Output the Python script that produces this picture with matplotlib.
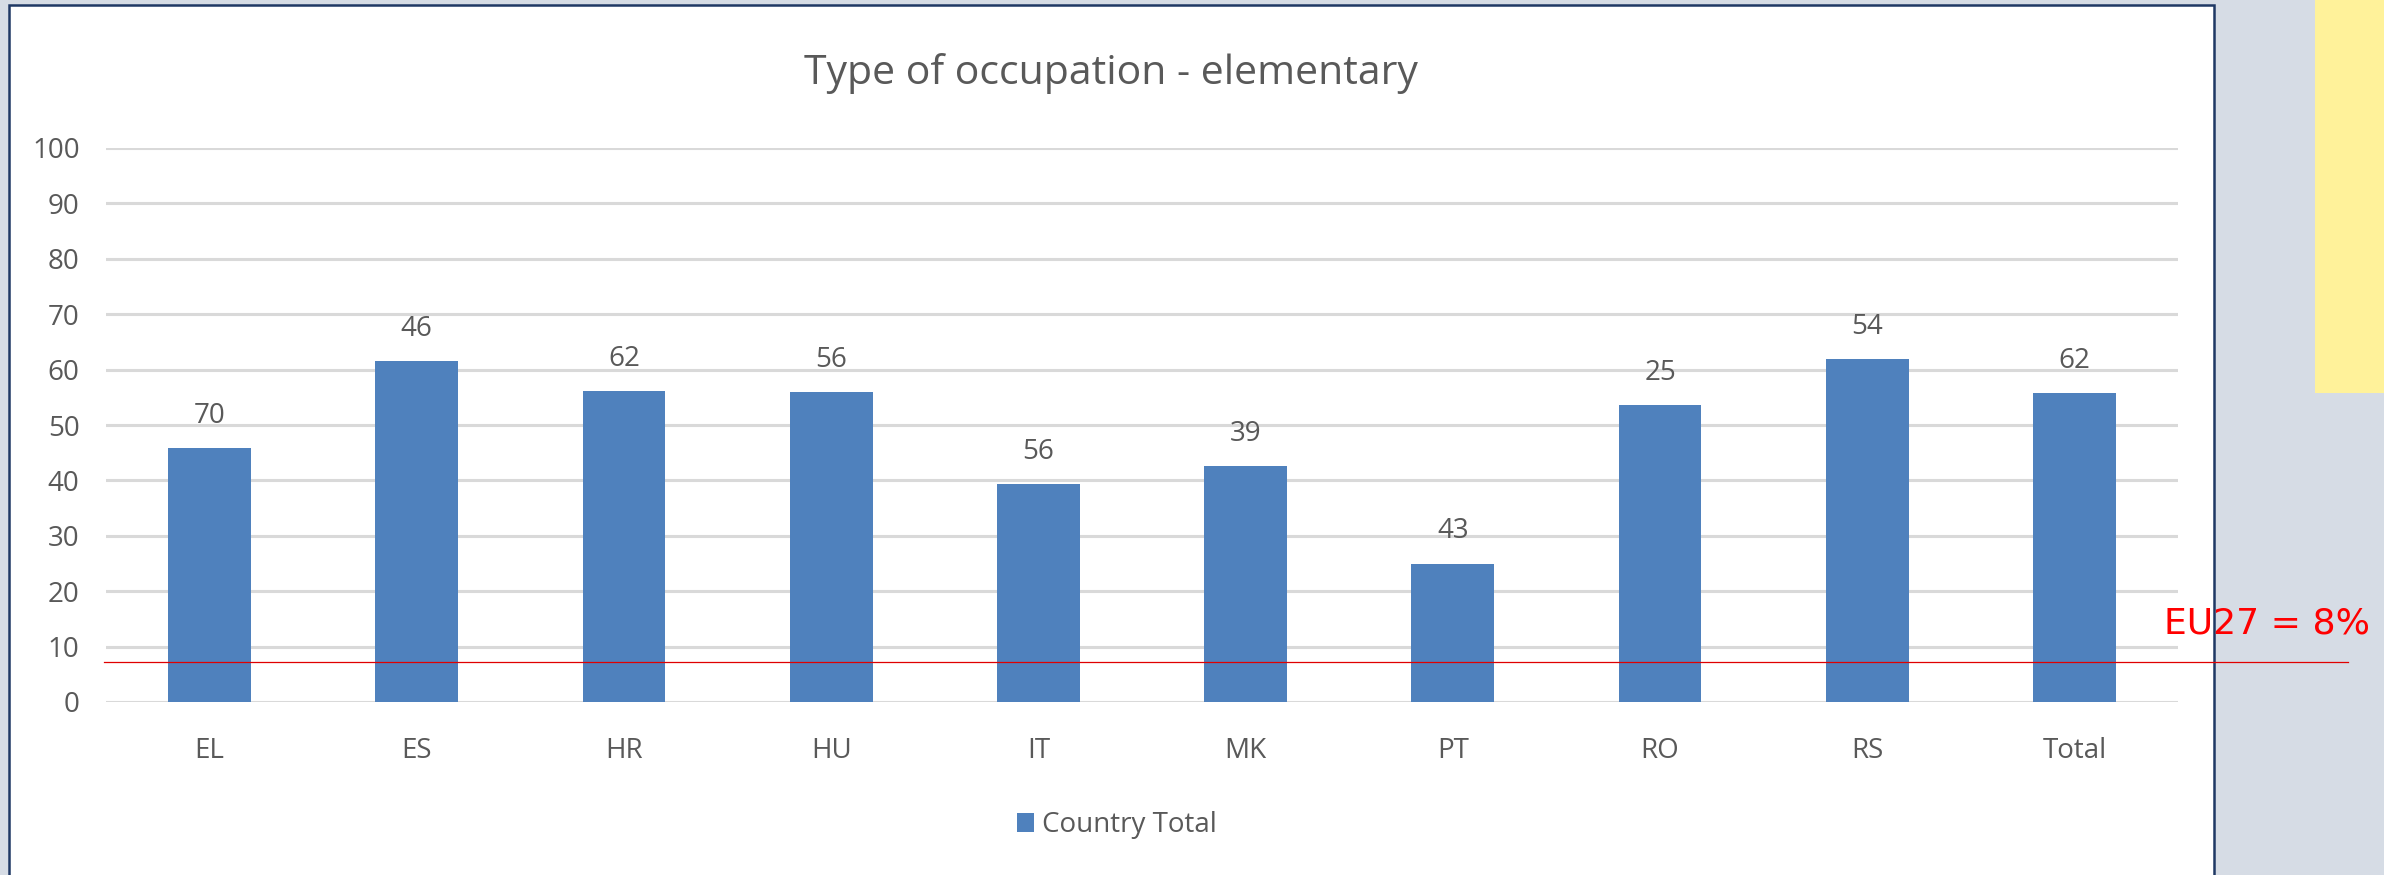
import matplotlib
matplotlib.use("Agg")
import matplotlib.pyplot as plt
from matplotlib.patches import Rectangle
from matplotlib import transforms

# =======================
# Data
# =======================
countries = ["EL", "ES", "HR", "HU", "IT", "MK", "PT", "RO", "RS", "Total"]
bar_values = [45.9, 61.6, 56.2, 55.9, 39.3, 42.6, 25.0, 53.6, 61.9, 55.7]
# labels shown above the bars (as printed in the original chart)
bar_labels = ["70", "46", "62", "56", "56", "39", "43", "25", "54", "62"]
yticks = [0, 10, 20, 30, 40, 50, 60, 70, 80, 90, 100]
eu27_value = 7.3
eu27_text = "EU27 = 8%"

# =======================
# Styles
# =======================
W, H = 2384, 875
bar_color = "#4F81BD"
text_color = "#595959"
grid_color = "#D9D9D9"
font = "Open Sans"

plt.rcParams["font.family"] = [font, "DejaVu Sans"]

fig = plt.figure(figsize=(W / 100, H / 100), dpi=100)
fig.patch.set_facecolor("#D6DCE5")

# white chart box with navy border
fig.add_artist(Rectangle((9 / W, -0.02), (2214 - 9) / W, 1.02 - 5 / H,
                         transform=fig.transFigure, facecolor="white",
                         edgecolor="#1F3864", linewidth=1.8, zorder=0))
# yellow note on the right
fig.add_artist(Rectangle((2315 / W, 1 - 393 / H), (W - 2315) / W, 393 / H,
                         transform=fig.transFigure, facecolor="#FFF29A",
                         edgecolor="none", zorder=0))

ax = fig.add_axes([106 / W, (H - 702) / H, (2178 - 106) / W, (702 - 148) / H])
ax.set_facecolor("none")

x = list(range(len(countries)))
bars = ax.bar(x, bar_values, width=0.4, color=bar_color, zorder=2,
              label="Country Total")

for rect, lbl in zip(bars, bar_labels):
    ax.annotate(lbl, (rect.get_x() + rect.get_width() / 2, rect.get_height()),
                xytext=(0, 13), textcoords="offset points", ha="center",
                va="bottom", fontsize=20, color=text_color)

ax.set_xlim(-0.5, len(countries) - 0.5)
ax.set_ylim(0, 100)
ax.set_yticks(yticks)
ax.set_xticks(x)
ax.set_xticklabels(countries)
ax.yaxis.grid(True, color=grid_color, linewidth=2.2, zorder=0)
ax.set_axisbelow(True)
for s in ax.spines.values():
    s.set_visible(False)
ax.tick_params(axis="y", length=0, pad=19, labelsize=20, labelcolor=text_color)
ax.tick_params(axis="x", length=0, pad=25, labelsize=20, labelcolor=text_color)

# EU27 reference line, running past the plot area
blend = transforms.blended_transform_factory(fig.transFigure, ax.transData)
ax.plot([104 / W, 2348 / W], [eu27_value, eu27_value], transform=blend,
        color="#E00000", linewidth=0.9, clip_on=False, zorder=3)
ax.annotate(eu27_text, (2164 / W, eu27_value), xycoords=blend,
            xytext=(0, 20), textcoords="offset points", ha="left",
            va="baseline", fontsize=26, color="#FF0000",
            family="DejaVu Sans", annotation_clip=False)

fig.text(1111 / W, 1 - 84 / H, "Type of occupation - elementary",
         ha="center", va="baseline", fontsize=29.5, color=text_color)

leg = fig.legend(handles=[bars], labels=["Country Total"], loc="center",
                 bbox_to_anchor=(1117 / W, 1 - 825 / H), frameon=False,
                 fontsize=20, handlelength=0.6, handleheight=0.7,
                 handletextpad=0.3)
for t in leg.get_texts():
    t.set_color(text_color)

fig.savefig("out.png", dpi=100, facecolor=fig.get_facecolor())
